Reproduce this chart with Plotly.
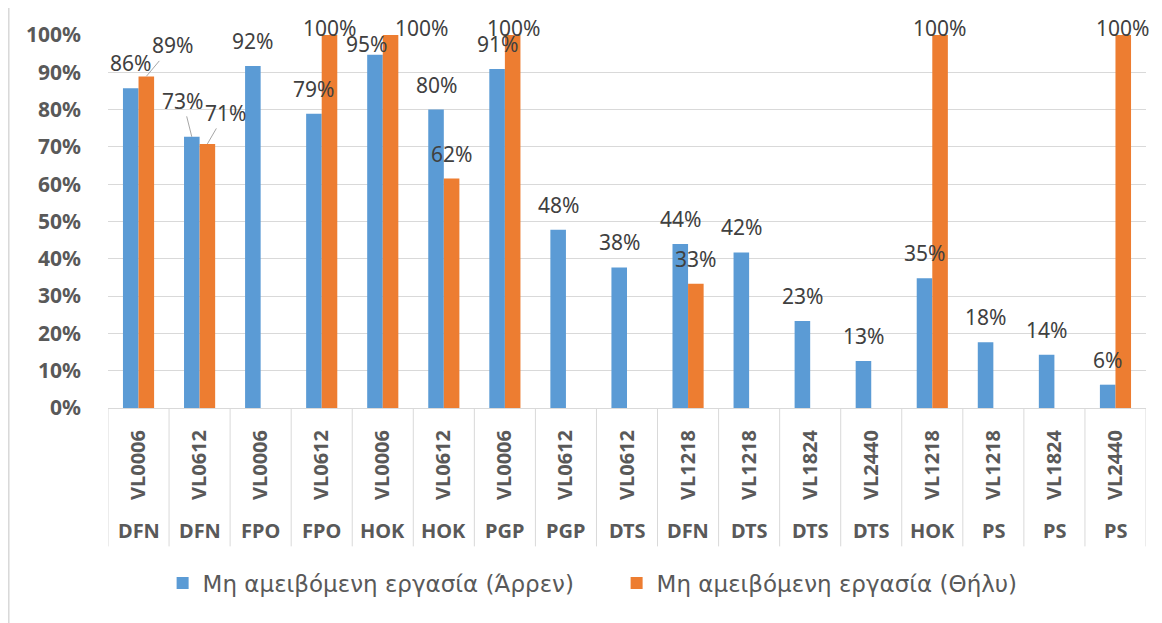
import plotly.graph_objects as go

# ---- data ----
codes = ["VL0006", "VL0612", "VL0006", "VL0612", "VL0006", "VL0612", "VL0006", "VL0612",
         "VL0612", "VL1218", "VL1218", "VL1824", "VL2440", "VL1218", "VL1218", "VL1824", "VL2440"]
groups = ["DFN", "DFN", "FPO", "FPO", "HOK", "HOK", "PGP", "PGP",
          "DTS", "DFN", "DTS", "DTS", "DTS", "HOK", "PS", "PS", "PS"]
male = [0.857, 0.727, 0.917, 0.789, 0.947, 0.80, 0.909, 0.478,
        0.377, 0.44, 0.417, 0.233, 0.126, 0.348, 0.176, 0.143, 0.0625]
female = [0.889, 0.708, None, 1.0, 1.0, 0.615, 1.0, None,
          None, 0.333, None, None, None, 1.0, None, None, 1.0]
name_male = "Μη αμειβόμενη εργασία (Άρρεν)"
name_female = "Μη αμειβόμενη εργασία (Θήλυ)"

# ---- label placement styles (pixel offsets: dx, dy above bar top, leader line) ----
DEF = (0, 25, False)
male_lab = [DEF, (-9, 36, True), DEF, DEF, (-8, 11, False), DEF, DEF, DEF,
            DEF, DEF, DEF, DEF, DEF, DEF, DEF, DEF, DEF]
female_lab = [(26, 31, True), (18, 31, True), None, (1, 7, False), (31, 7, False), DEF, (1, 7, False), None,
              None, DEF, None, None, None, (0, 7, False), None, None, (0, 7, False)]

BLUE = "#5b9bd5"
ORANGE = "#ed7d31"
GRID = "#d9d9d9"
TXT = "#595959"
LAB = "#404040"
FONT = "Noto Sans"
BARGAP = 0.49

n = len(codes)
xs = list(range(n))

fig = go.Figure()
fig.add_trace(go.Bar(x=xs, y=male, name=name_male, marker=dict(color=BLUE, line=dict(width=0))))
fig.add_trace(go.Bar(x=xs, y=female, name=name_female, marker=dict(color=ORANGE, line=dict(width=0))))

half = (1 - BARGAP) / 4  # offset of each bar centre from category centre
annotations = []
for series, labs, off in ((male, male_lab, -half), (female, female_lab, half)):
    for i, (v, lab) in enumerate(zip(series, labs)):
        if v is None or lab is None:
            continue
        dx, dy, leader = lab
        txt = f"{round(v * 100):d}%"
        common = dict(x=i + off, y=v, xref="x", yref="y", text=txt,
                      font=dict(family=FONT, size=21, color=LAB))
        if leader:
            annotations.append(dict(**common, showarrow=True, ax=dx, ay=-dy,
                                    arrowhead=0, arrowwidth=1, arrowcolor="#a6a6a6",
                                    standoff=0, startstandoff=0))
        else:
            annotations.append(dict(**common, showarrow=False, xshift=dx, yshift=dy,
                                    xanchor="center", yanchor="middle"))

# group (outer level) labels
for i, g in enumerate(groups):
    annotations.append(dict(x=i, y=-0.329, xref="x", yref="paper", text=f"<b>{g}</b>",
                            showarrow=False, xanchor="center", yanchor="middle",
                            font=dict(family=FONT, size=20, color=TXT)))

shapes = []
for i in range(n + 1):
    shapes.append(dict(type="line", xref="x", yref="paper", x0=i - 0.5, x1=i - 0.5,
                       y0=0, y1=-0.371, line=dict(color=GRID, width=1)))
# chart frame (left edge visible)
shapes.append(dict(type="rect", xref="paper", yref="paper", x0=-0.0958, x1=1.05,
                   y0=-0.7, y1=1.2, line=dict(color=GRID, width=2), fillcolor="rgba(0,0,0,0)"))

fig.update_layout(
    width=1154, height=615,
    margin=dict(l=100, r=16, t=25, b=215),
    paper_bgcolor="white", plot_bgcolor="white",
    barmode="group", bargap=BARGAP, bargroupgap=0,
    font=dict(family=FONT, color=TXT),
    showlegend=True,
    legend=dict(orientation="h", x=0.490, xanchor="center", y=-0.469, yanchor="middle",
                font=dict(family="DejaVu Sans", size=23, color=TXT), itemwidth=30,
                entrywidth=409, bgcolor="rgba(0,0,0,0)"),
    annotations=annotations,
    shapes=shapes,
    xaxis=dict(range=[-0.5, n - 0.5], tickmode="array", tickvals=xs,
               ticktext=[f"<b>{c}</b>" for c in codes], tickangle=-90,
               tickfont=dict(family=FONT, size=20, color=TXT), ticks="",
               showgrid=False, showline=True, linecolor=GRID, linewidth=1,
               zeroline=False, ticklabelstandoff=13, fixedrange=True),
    yaxis=dict(range=[0, 1], tickmode="linear", tick0=0, dtick=0.1, tickformat=".0%",
               tickfont=dict(family=FONT, size=21, color=TXT, weight="bold"),
               showgrid=True, gridcolor=GRID, gridwidth=1, zeroline=False,
               showline=False, ticks="", ticklabelstandoff=26, fixedrange=True),
)

fig.write_html("out.html")
